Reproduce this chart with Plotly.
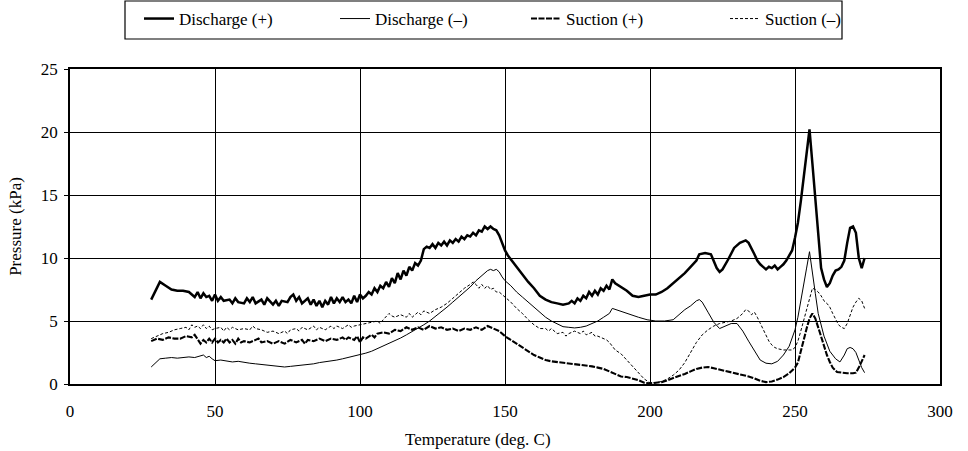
import plotly.graph_objects as go

# ---- Discharge (+) ----
dp_t = [28, 29.5, 31, 33, 35, 37, 39, 41, 43, 44, 45, 46, 47, 48, 49, 50, 51, 52, 53, 55, 56, 57, 58, 60,
        61, 62, 63, 64, 66, 67, 68, 70, 71, 72, 73, 75, 76, 77, 78, 79, 80, 82, 83, 84, 85, 86, 87, 88,
        89, 90, 91, 92, 93, 94, 95, 96, 97, 98, 99, 100, 101, 102, 103, 104, 105, 106, 107, 108, 109,
        110, 111, 112, 113, 114, 115, 116, 117, 118, 119, 120, 121, 122, 123, 124, 125, 126, 127, 128,
        129, 130, 131, 132, 133, 134, 135, 136, 137, 138, 139, 140, 141, 142, 143, 144, 145, 146, 147,
        148, 149, 150, 151, 152, 153, 154, 156, 158, 160, 162, 164, 166, 168, 170, 172, 173, 174, 175,
        176, 177, 178, 179, 180, 181, 182, 183, 184, 185, 186, 187, 188, 190, 192, 194, 196, 198, 200,
        202, 204, 206, 208, 210, 212, 214, 216, 217, 219, 221, 222, 223, 224, 225, 227, 229, 231, 233,
        234, 235, 236, 237, 238, 239, 240, 241, 242, 243, 244, 245, 246, 247, 248, 249, 250, 251, 252,
        253, 254, 255, 256, 257, 258, 259, 260, 261, 262, 263, 264, 265, 266, 267, 268, 269, 270, 271,
        272, 273, 274]
dp_p = [6.7, 7.4, 8.1, 7.8, 7.5, 7.4, 7.4, 7.3, 6.9, 7.3, 6.8, 7.2, 6.9, 7.0, 6.6, 7.1, 6.6, 6.9, 6.6,
        6.7, 6.4, 6.8, 6.5, 6.4, 6.8, 6.5, 6.9, 6.4, 6.7, 6.3, 6.8, 6.3, 6.6, 6.2, 6.6, 6.5, 6.9, 7.1,
        6.6, 6.9, 6.4, 6.8, 6.3, 6.7, 6.2, 6.6, 6.1, 6.6, 6.3, 6.9, 6.4, 6.8, 6.5, 6.9, 6.5, 6.7, 6.4,
        7.0, 6.5, 7.1, 6.8, 7.0, 7.3, 7.1, 7.6, 7.3, 7.8, 7.6, 8.1, 7.7, 8.4, 8.0, 8.8, 8.3, 9.0, 8.6,
        9.3, 9.0, 9.6, 9.4, 9.8, 10.7, 10.9, 10.8, 11.1, 10.8, 11.2, 11.0, 11.3, 11.0, 11.4, 11.2, 11.5,
        11.3, 11.7, 11.5, 11.8, 11.7, 12.0, 11.8, 12.2, 12.1, 12.5, 12.3, 12.5, 12.3, 12.2, 11.8, 11.2,
        10.6, 10.2, 9.9, 9.6, 9.3, 8.7, 8.1, 7.6, 7.0, 6.7, 6.5, 6.4, 6.3, 6.4, 6.6, 6.4, 6.8, 6.6, 7.0,
        6.8, 7.3, 7.0, 7.4, 7.1, 7.6, 7.4, 7.8, 7.5, 8.3, 8.0, 7.7, 7.4, 7.0, 6.9, 7.0, 7.1, 7.1, 7.3,
        7.6, 8.0, 8.4, 8.8, 9.3, 9.8, 10.3, 10.4, 10.3, 9.7, 9.2, 8.9, 9.1, 9.9, 10.8, 11.2, 11.4, 11.2,
        10.8, 10.3, 9.8, 9.5, 9.3, 9.1, 9.3, 9.2, 9.4, 9.1, 9.3, 9.5, 9.8, 10.2, 10.6, 11.6, 12.8, 14.5,
        16.5, 18.6, 20.2, 17.5, 14.5, 11.5, 9.2, 8.3, 7.7, 8.0, 8.6, 9.0, 9.1, 9.3, 9.8, 11.2, 12.4,
        12.5, 12.0, 10.0, 9.2, 10.0]

# ---- Discharge (-) ----
dm_t = [28, 30, 31, 33, 35, 37, 39, 41, 43, 45, 46, 47, 48, 49, 50, 52, 54, 56, 58, 60, 62, 64, 66, 68,
        70, 72, 74, 76, 78, 80, 82, 84, 86, 88, 90, 92, 94, 96, 98, 100, 102, 104, 106, 108, 110, 112,
        114, 116, 118, 120, 122, 124, 126, 128, 130, 132, 134, 136, 138, 140, 142, 144, 145, 146, 147,
        148, 149, 150, 152, 154, 156, 158, 160, 162, 164, 166, 168, 170, 172, 174, 176, 178, 180, 182,
        184, 186, 187, 190, 193, 196, 199, 202, 205, 208, 210, 212, 214, 216, 217, 218, 220, 222, 224,
        226, 228, 230, 232, 234, 236, 238, 240, 242, 244, 246, 248, 250, 251, 252, 253, 254, 255, 256,
        257, 258, 259, 260, 262, 264, 265.5, 267, 268, 269, 270, 271, 272, 273, 274]
dm_p = [1.35, 1.8, 2.0, 2.05, 2.1, 2.05, 2.1, 2.15, 2.1, 2.2, 2.3, 2.1, 2.2, 2.0, 1.85, 1.9, 1.8, 1.75,
        1.8, 1.7, 1.65, 1.6, 1.55, 1.5, 1.45, 1.4, 1.35, 1.4, 1.45, 1.5, 1.5, 1.6, 1.7, 1.75, 1.85, 1.9,
        2.0, 2.1, 2.2, 2.3, 2.45, 2.6, 2.8, 3.0, 3.2, 3.4, 3.65, 3.9, 4.15, 4.4, 4.7, 5.0, 5.35, 5.7,
        6.1, 6.5, 6.9, 7.3, 7.7, 8.2, 8.6, 9.0, 9.1, 9.0, 9.1, 8.9, 8.5, 8.2, 7.8, 7.3, 6.9, 6.5, 6.1,
        5.7, 5.3, 5.0, 4.75, 4.55, 4.5, 4.45, 4.5, 4.6, 4.8, 5.0, 5.3, 5.6, 6.0, 5.75, 5.5, 5.3, 5.1,
        5.0, 5.0, 5.1, 5.5, 5.9, 6.2, 6.6, 6.7, 6.5, 5.7, 4.9, 4.4, 4.6, 4.8, 4.8, 4.2, 3.4, 2.6, 1.9,
        1.65, 1.6, 1.8, 2.3, 3.0, 4.3, 5.3, 6.5, 7.8, 9.2, 10.5, 9.0, 7.2, 5.6, 4.6, 3.8, 2.6, 2.0,
        1.75, 2.3, 2.8, 2.9, 2.8, 2.5, 1.9, 1.3, 0.9]

# ---- Suction (+) ----
sp_t = [28, 30, 32, 34, 36, 38, 40, 42, 43, 44, 45, 46, 47, 48, 49, 50, 51, 52, 53, 54, 55, 56, 57, 58,
        59, 60, 62, 64, 65, 66, 68, 70, 72, 74, 76, 78, 80, 81, 82, 84, 86, 88, 90, 92, 94, 95, 96, 98,
        99, 100, 101, 102, 104, 105, 106, 108, 110, 112, 114, 116, 118, 120, 122, 124, 126, 128, 130,
        132, 134, 136, 138, 140, 142, 144, 146, 148, 150, 152, 154, 156, 158, 160, 162, 164, 166, 168,
        170, 172, 174, 176, 178, 180, 182, 184, 186, 188, 190, 192, 194, 196, 198, 200, 202, 204, 206,
        208, 210, 212, 214, 216, 218, 220, 222, 224, 226, 228, 230, 232, 234, 236, 238, 240, 242, 244,
        246, 248, 250, 251, 252, 253, 254, 255, 256, 257, 258, 259, 260, 261, 262, 263, 264.5, 266,
        268, 270, 271, 272, 273, 274]
sp_p = [3.4, 3.6, 3.5, 3.7, 3.6, 3.6, 3.8, 3.7, 3.9, 3.5, 3.2, 3.5, 3.3, 3.6, 3.3, 3.6, 3.3, 3.5, 3.3,
        3.6, 3.3, 3.5, 3.2, 3.6, 3.3, 3.4, 3.3, 3.5, 3.6, 3.3, 3.4, 3.2, 3.4, 3.2, 3.5, 3.3, 3.5, 3.2,
        3.5, 3.4, 3.6, 3.4, 3.6, 3.5, 3.7, 3.5, 3.7, 3.5, 3.8, 3.3, 3.7, 3.6, 3.9, 3.7, 4.0, 4.1, 4.0,
        4.3, 4.2, 4.5, 4.3, 4.5, 4.3, 4.6, 4.4, 4.5, 4.3, 4.4, 4.2, 4.4, 4.3, 4.5, 4.3, 4.6, 4.4, 4.2,
        3.8, 3.5, 3.2, 2.9, 2.6, 2.3, 2.1, 1.9, 1.8, 1.75, 1.7, 1.65, 1.6, 1.55, 1.45, 1.4, 1.3, 1.2,
        1.0, 0.8, 0.6, 0.55, 0.45, 0.3, 0.1, 0.05, 0.1, 0.15, 0.3, 0.45, 0.6, 0.8, 1.0, 1.2, 1.3, 1.35,
        1.25, 1.15, 1.05, 0.95, 0.85, 0.75, 0.6, 0.45, 0.25, 0.15, 0.2, 0.35, 0.55, 0.85, 1.3, 1.7,
        2.5, 3.5, 4.4, 5.2, 5.6, 5.2, 4.5, 3.7, 3.0, 2.3, 1.75, 1.3, 0.95, 0.9, 0.85, 0.85, 0.9, 1.3,
        1.8, 2.3]

# ---- Suction (-) ----
sm_t = [28, 30, 32, 34, 36, 38, 40, 41, 42, 43, 44, 45, 46, 47, 48, 49, 50, 52, 53, 54, 55, 56, 58, 60,
        62, 63, 64, 66, 68, 70, 72, 74, 75, 76, 78, 79, 80, 82, 84, 85, 86, 88, 90, 91, 92, 94, 96, 97,
        98, 100, 102, 104, 106, 107, 108, 110, 111, 112, 114, 116, 117, 118, 120, 121, 122, 124, 126,
        128, 130, 132, 134, 136, 138, 139, 140, 141, 142, 143, 144, 145, 146, 147, 148, 150, 152, 154,
        156, 158, 160, 162, 164, 165, 166, 168, 170, 171, 172, 174, 176, 177, 178, 180, 181, 182, 184,
        185, 186, 187, 188, 190, 192, 194, 196, 198, 200, 202, 204, 206, 208, 210, 212, 214, 216, 218,
        220, 222, 224, 226, 228, 230, 232, 233, 234, 235, 236, 237, 238, 239, 240, 241, 242, 243, 244,
        246, 248, 249, 250, 251, 252, 253, 254, 255, 256, 257, 258, 259, 260, 261, 262, 263, 264, 265,
        266, 267, 268, 269, 270, 271, 272, 273, 274]
sm_p = [3.6, 3.8, 4.0, 4.1, 4.3, 4.4, 4.5, 4.3, 4.7, 4.5, 4.6, 4.4, 4.7, 4.4, 4.6, 4.3, 4.4, 4.5, 4.2,
        4.5, 4.3, 4.5, 4.3, 4.4, 4.3, 4.6, 4.4, 4.3, 4.1, 4.2, 4.0, 4.2, 4.0, 4.3, 4.4, 4.2, 4.5, 4.3,
        4.6, 4.3, 4.5, 4.3, 4.6, 4.4, 4.6, 4.4, 4.7, 4.5, 4.6, 4.7, 4.8, 4.9, 5.0, 4.8, 5.1, 5.6, 5.4,
        5.3, 5.5, 5.3, 5.6, 5.3, 5.7, 5.5, 5.8, 5.6, 5.9, 6.1, 6.4, 6.8, 7.2, 7.6, 7.9, 8.1, 7.9, 7.6,
        7.9, 7.6, 7.8, 7.5, 7.6, 7.3, 7.3, 6.9, 6.5, 6.0, 5.6, 5.1, 4.7, 4.4, 4.4, 4.2, 4.4, 4.0, 4.1,
        3.8, 4.0, 4.2, 4.0, 4.2, 3.9, 4.1, 3.8, 3.8, 3.6, 3.5, 3.3, 3.0, 2.7, 2.4, 1.9, 1.4, 0.9, 0.4,
        0.1, 0.1, 0.2, 0.4, 0.7, 1.1, 1.7, 2.5, 3.3, 3.9, 4.3, 4.6, 4.8, 4.9, 5.0, 5.2, 5.6, 5.9, 5.8,
        5.5, 5.7, 5.3, 4.8, 4.3, 3.8, 3.4, 3.1, 2.9, 2.8, 2.7, 2.7, 2.7, 2.9, 3.4, 4.2, 5.0, 5.9, 6.8,
        7.6, 7.5, 7.3, 7.0, 6.6, 6.4, 6.1, 5.6, 5.1, 4.7, 4.5, 4.4, 4.8, 5.5, 6.1, 6.5, 6.8, 6.6, 6.0]

FONT = "Liberation Serif"
W, H = 968, 451

fig = go.Figure()
series = [
    ("Discharge (+)", dp_t, dp_p, dict(color="black", width=2.5), "legend"),
    ("Discharge (\u2013)", dm_t, dm_p, dict(color="black", width=1), "legend2"),
    ("Suction (+)", sp_t, sp_p, dict(color="black", width=2.1, dash="6px,1.5px"), "legend3"),
    ("Suction (\u2013)", sm_t, sm_p, dict(color="black", width=1, dash="3px,2px"), "legend4"),
]
for name, t, p, line, lg in series:
    fig.add_trace(go.Scatter(x=t, y=p, mode="lines", name=name, line=line, legend=lg))

# legend entries laid out in one framed row above the plot
legend_x = [139, 335, 526, 725]
common = dict(orientation="h", xref="container", yref="container", xanchor="left",
              yanchor="middle", y=1 - 19 / H, bgcolor="rgba(0,0,0,0)", borderwidth=0,
              font=dict(family=FONT, size=17, color="black"))
fig.update_layout(
    legend=dict(x=legend_x[0] / W, **common),
    legend2=dict(x=legend_x[1] / W, **common),
    legend3=dict(x=legend_x[2] / W, **common),
    legend4=dict(x=legend_x[3] / W, **common),
)

ML, MR, MT, MB = 70, 28, 69, 67
pw, ph = W - ML - MR, H - MT - MB


def px_to_paper_x(px):
    return (px - ML) / pw


def py_to_paper_y(py):
    return (H - MB - py) / ph


fig.add_shape(type="rect", xref="paper", yref="paper",
              x0=px_to_paper_x(125), x1=px_to_paper_x(842),
              y0=py_to_paper_y(39), y1=py_to_paper_y(1),
              line=dict(color="black", width=1.2), fillcolor="rgba(0,0,0,0)")

# x-axis caption, set slightly left of the plot centre
fig.add_annotation(text="Temperature (deg. C)", xref="paper", yref="paper",
                   x=px_to_paper_x(478), y=py_to_paper_y(439), xanchor="center",
                   yanchor="middle", showarrow=False, font=dict(family=FONT, size=17, color="black"))

fig.update_layout(
    width=W, height=H,
    margin=dict(l=ML, r=MR, t=MT, b=MB),
    paper_bgcolor="white", plot_bgcolor="white",
    font=dict(family=FONT, size=17, color="black"),
    showlegend=True,
    xaxis=dict(range=[0, 300], dtick=50, tick0=0, showgrid=True, gridcolor="black", gridwidth=1,
               zeroline=False, showline=True, linecolor="black", linewidth=2.2, mirror=True,
               ticks="", ticklabelstandoff=10, tickfont=dict(family=FONT, size=17)),
    yaxis=dict(range=[0, 25], dtick=5, tick0=0, showgrid=True, gridcolor="black", gridwidth=1,
               zeroline=False, showline=True, linecolor="black", linewidth=1.6, mirror=True,
               ticks="outside", ticklen=4, tickcolor="black", ticklabelstandoff=3,
               title=dict(text="Pressure (kPa)", standoff=15, font=dict(family=FONT, size=17)),
               tickfont=dict(family=FONT, size=17)),
)

fig.write_html("out.html")
